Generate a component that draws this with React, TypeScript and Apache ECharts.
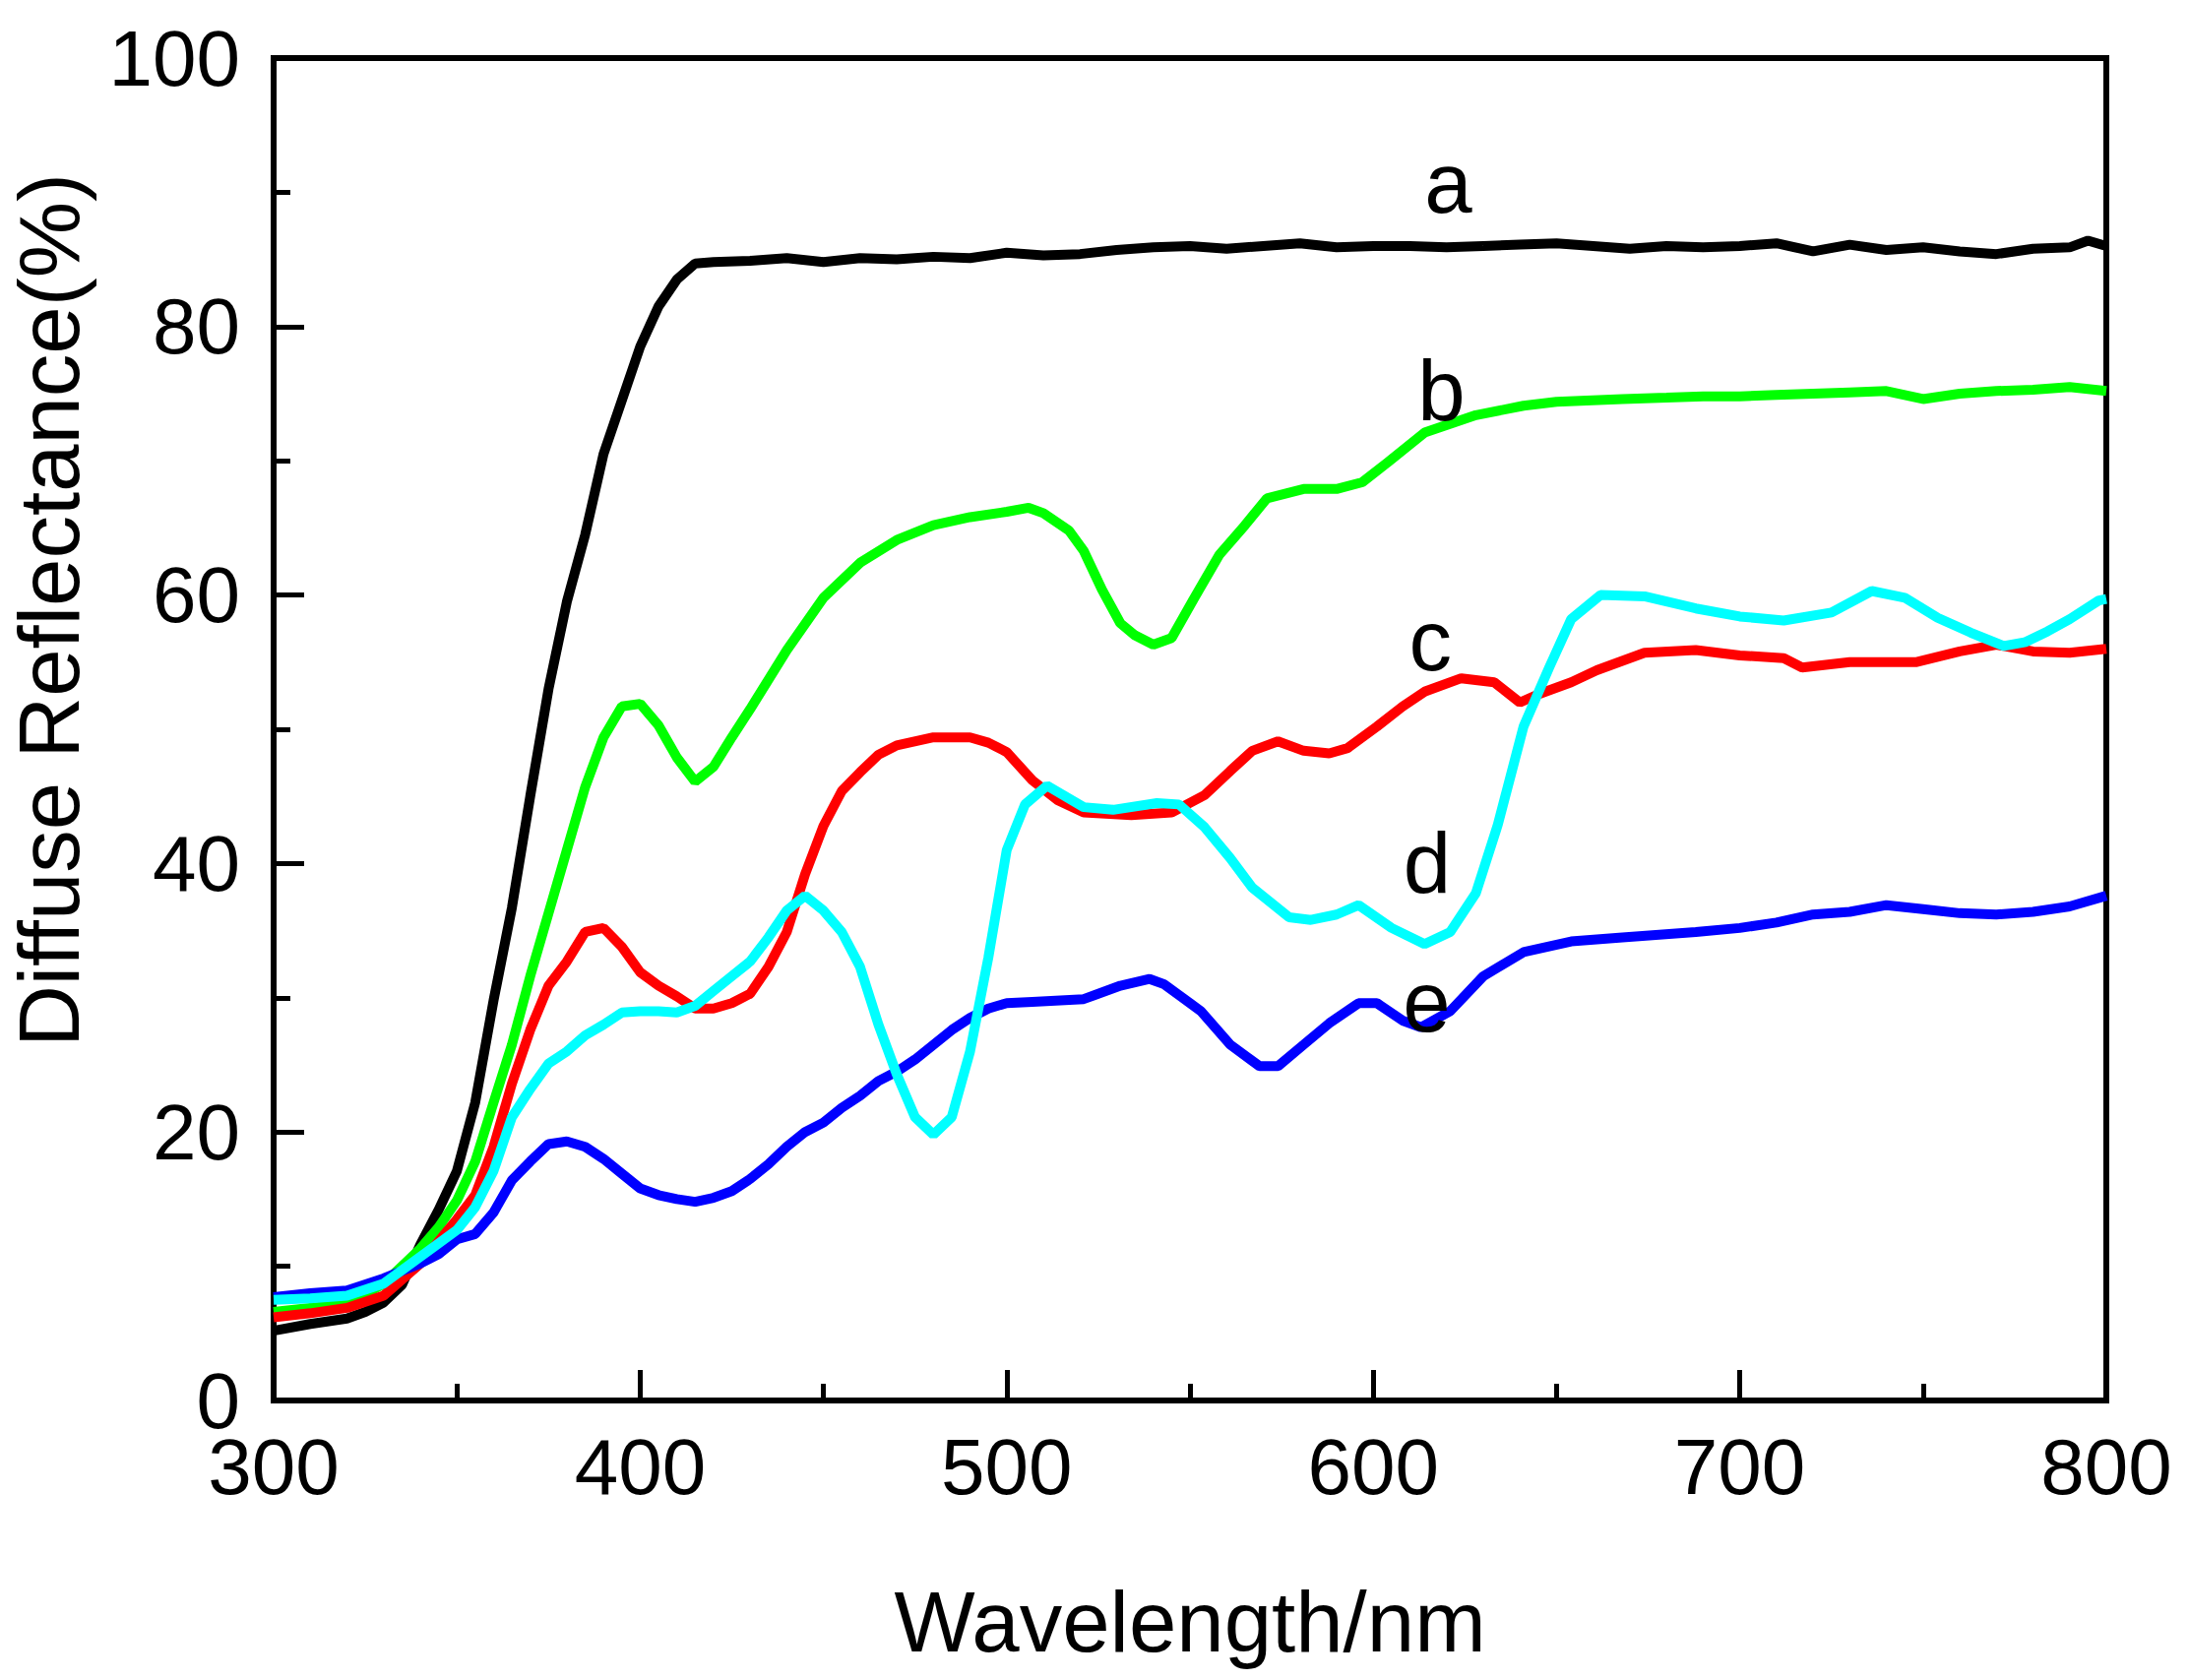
import React, { useEffect, useRef } from 'react';
import * as echarts from 'echarts';

const FONT = '"Liberation Sans", Arial, sans-serif';

// a - black
const aNm = [300,310,320,325,330,335,340,345,350,355,360,365,370,375,380,385,390,395,400,405,410,415,420,430,440,450,460,470,480,490,500,510,520,530,540,550,560,570,580,590,600,610,620,630,640,650,660,670,680,690,700,710,720,730,740,750,760,770,780,790,795,800];
const aVal = [5.2,5.7,6.1,6.6,7.3,8.6,11.6,14.2,17.1,22.2,29.8,36.7,45,53,59.5,64.5,70.5,74.5,78.5,81.5,83.5,84.7,84.8,84.9,85.1,84.8,85.1,85,85.2,85.1,85.5,85.3,85.4,85.7,85.9,86,85.8,86,86.2,85.9,86,86,85.9,86,86.1,86.2,86,85.8,86,85.9,86,86.2,85.6,86.1,85.7,85.9,85.6,85.4,85.8,85.9,86.4,86];

// b - green
const bNm = [300,310,320,330,340,345,350,355,360,365,370,375,380,385,390,395,400,405,410,415,420,425,430,435,440,450,460,470,480,490,500,506,510,517,521,526,531,535,540,545,551,558,565,571,581,590,597,604,614,628,641,650,668,680,690,700,710,720,730,740,750,760,770,780,790,800];
const bVal = [6.6,6.9,7.2,8.7,11.3,12.9,14.9,17.8,22.2,26.5,31.6,36.3,41,45.7,49.4,51.7,51.9,50.3,47.9,46.1,47.2,49.4,51.5,53.7,55.9,59.8,62.4,64.1,65.2,65.8,66.2,66.5,66.1,64.8,63.3,60.4,57.9,57,56.3,56.8,59.7,63,65.2,67.2,67.9,67.9,68.4,69.9,72.1,73.4,74.1,74.4,74.6,74.7,74.8,74.8,74.9,75,75.1,75.2,74.6,75,75.2,75.3,75.5,75.2];

// c - red
const cNm = [300,310,320,330,340,350,355,360,365,370,375,380,385,390,395,400,405,410,415,420,425,430,435,440,445,450,455,460,465,470,480,490,495,500,507,514,521,534,545,554,561,567,574,581,588,593,601,608,614,624,633,640,645,654,661,674,688,700,712,717,730,748,760,770,780,790,800];
const cVal = [6.2,6.5,6.9,7.8,10.2,13.5,15.3,18.9,23.6,27.6,30.9,32.7,34.9,35.2,33.8,31.9,30.9,30.1,29.2,29.2,29.6,30.3,32.3,34.9,39.2,42.8,45.4,46.8,48.1,48.8,49.4,49.4,49,48.3,46.2,44.7,43.8,43.6,43.8,45.1,46.9,48.4,49.1,48.4,48.2,48.6,50.2,51.7,52.8,53.8,53.5,52,52.6,53.5,54.4,55.7,55.9,55.5,55.3,54.6,55,55,55.8,56.3,55.8,55.7,56];

// d - cyan
const dNm = [300,310,320,330,340,350,355,360,365,370,375,380,385,390,395,400,405,410,415,420,425,430,435,440,445,450,455,460,465,470,475,480,485,490,495,500,505,511,521,529,541,547,554,561,567,577,583,590,596,605,614,621,628,634,641,648,654,662,674,688,700,712,725,736,745,754,763,772,778,784,790,798,800];
const dVal = [7.5,7.6,7.8,8.7,10.7,12.7,14.4,17.1,21.1,23.2,25.1,26,27.2,28,28.9,29,29,28.9,29.4,30.5,31.6,32.7,34.5,36.5,37.6,36.5,34.9,32.3,28,24.3,21.1,19.8,21.1,26,33,41,44.4,45.8,44.2,44,44.5,44.4,42.7,40.4,38.2,36,35.8,36.2,36.9,35.2,34,34.9,37.8,42.9,50.2,54.6,58.2,60,59.9,59,58.4,58.1,58.7,60.3,59.8,58.3,57.2,56.2,56.5,57.3,58.2,59.6,59.7];

// e - blue
const eNm = [300,310,320,330,340,345,350,355,360,365,370,375,380,385,390,395,400,405,410,415,420,425,430,435,440,445,450,455,460,465,470,475,480,485,490,495,500,507,521,531,539,543,553,561,569,574,581,588,596,601,608,613,621,630,641,654,668,688,700,710,720,730,740,750,760,770,780,790,800];
const eVal = [7.7,8,8.2,9.1,10.2,10.9,12,12.4,14,16.4,17.8,19.1,19.3,18.9,18,16.9,15.8,15.3,15,14.8,15.1,15.6,16.5,17.6,18.9,20,20.7,21.8,22.7,23.8,24.5,25.4,26.5,27.6,28.5,29.2,29.6,29.7,29.9,30.9,31.4,31,29,26.5,24.9,24.9,26.5,28.1,29.6,29.6,28.3,27.8,29,31.6,33.4,34.2,34.5,34.9,35.2,35.6,36.2,36.4,36.9,36.6,36.3,36.2,36.4,36.8,37.6];

// curve labels
const labelNames = ['a', 'b', 'c', 'd', 'e'];
const labelNm = [620.6, 618.7, 615.7, 614.8, 614.7];
const labelPct = [90.7, 75.2, 56.6, 40, 29.7];

const curves = [
  { nm: aNm, val: aVal, color: '#000000' },
  { nm: bNm, val: bVal, color: '#00FF00' },
  { nm: cNm, val: cVal, color: '#FF0000' },
  { nm: eNm, val: eVal, color: '#0000FF' },
  { nm: dNm, val: dVal, color: '#00FFFF' },
];

const App: React.FC = () => {
  const chartRef = useRef<HTMLDivElement>(null);

  useEffect(() => {
    if (!chartRef.current) return;
    const chart = echarts.init(chartRef.current, undefined, { renderer: 'svg' });

    const axisCommon = {
      type: 'value' as const,
      axisLine: { show: true, onZero: false, lineStyle: { color: '#000', width: 6 } },
      axisTick: { show: true, inside: true, length: 31, lineStyle: { color: '#000', width: 5 } },
      minorTick: { show: true, splitNumber: 2, length: 17, lineStyle: { color: '#000', width: 5 } },
      splitLine: { show: false },
    };

    const option: any = {
      animation: false,
      backgroundColor: '#ffffff',
      grid: {
        left: 270, right: 76, top: 51, bottom: 276,
        show: true, borderColor: '#000', borderWidth: 6, backgroundColor: 'transparent',
      },
      xAxis: {
        ...axisCommon,
        min: 300, max: 800, interval: 100,
        name: 'Wavelength/nm',
        nameLocation: 'middle',
        nameGap: 181,
        nameTextStyle: { fontSize: 87, color: '#000', fontFamily: FONT },
        axisLabel: { fontSize: 80, color: '#000', margin: 27, fontFamily: FONT },
      },
      yAxis: {
        ...axisCommon,
        min: 0, max: 100, interval: 20,
        axisLabel: { fontSize: 80, color: '#000', margin: 34, fontFamily: FONT },
      },
      graphic: [
        {
          type: 'text',
          x: 41,
          y: 612,
          rotation: Math.PI / 2,
          style: {
            text: 'Diffuse Reflectance(%)',
            fontSize: 87,
            fontFamily: FONT,
            fill: '#000',
            textAlign: 'center',
            textVerticalAlign: 'middle',
            align: 'center',
            verticalAlign: 'middle',
          },
        },
      ],
      series: [
        ...curves.map((c) => ({
          type: 'line',
          data: c.nm.map((x, i) => [x, c.val[i]]),
          symbol: 'none',
          lineStyle: { color: c.color, width: 10 },
          itemStyle: { color: c.color },
          silent: true,
        })),
        {
          type: 'scatter',
          data: labelNames.map((n, i) => ({ name: n, value: [labelNm[i], labelPct[i]] })),
          symbolSize: 1,
          itemStyle: { color: '#ffffff', opacity: 1 },
          z: 10,
          silent: true,
          label: {
            show: true,
            position: [0, 0],
            align: 'center',
            verticalAlign: 'middle',
            formatter: '{b}',
            fontSize: 87,
            color: '#000000',
            opacity: 1,
            textBorderWidth: 0,
            fontFamily: FONT,
          },
        },
      ],
    };

    chart.setOption(option);
    return () => chart.dispose();
  }, []);

  return <div ref={chartRef} style={{ width: 2208, height: 1691 }} />;
};

export default App;
